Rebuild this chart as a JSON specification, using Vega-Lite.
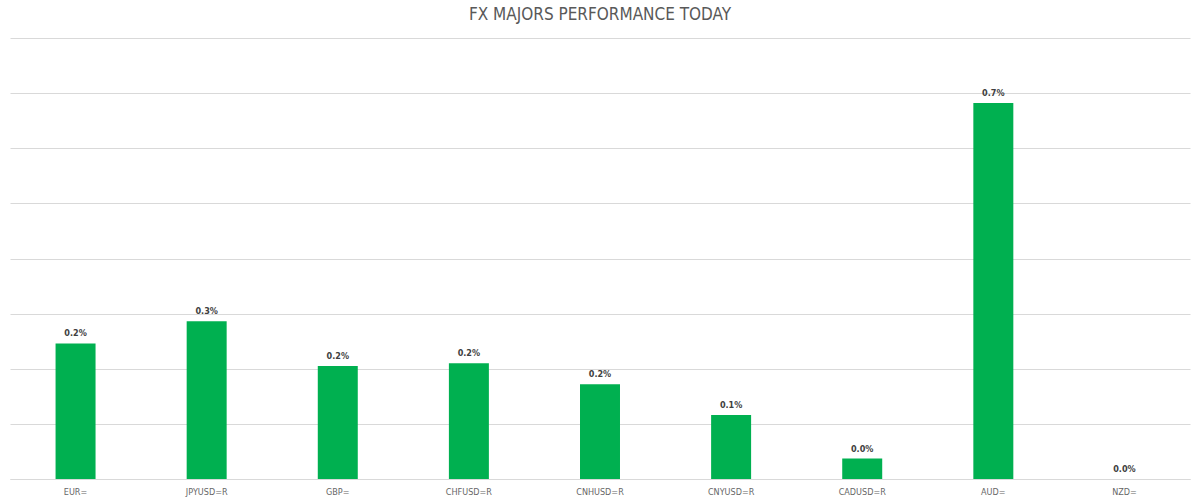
{
  "$schema": "https://vega.github.io/schema/vega-lite/v6.json",
  "width": 1180,
  "height": 441,
  "autosize": {"type": "none"},
  "padding": {"left": 10, "right": 10, "top": 38, "bottom": 24},
  "background": "#ffffff",
  "title": {
    "text": "FX MAJORS PERFORMANCE TODAY",
    "anchor": "middle",
    "font": "DejaVu Sans Condensed",
    "fontSize": 17,
    "fontWeight": "normal",
    "color": "#595959",
    "offset": 14
  },
  "config": {
    "view": {"stroke": null},
    "font": "DejaVu Sans Condensed"
  },
  "data": {
    "values": [
      {"ric": "EUR=", "change": 0.00246},
      {"ric": "JPYUSD=R", "change": 0.00286},
      {"ric": "GBP=", "change": 0.00205},
      {"ric": "CHFUSD=R", "change": 0.0021},
      {"ric": "CNHUSD=R", "change": 0.00172},
      {"ric": "CNYUSD=R", "change": 0.00116},
      {"ric": "CADUSD=R", "change": 0.00037},
      {"ric": "AUD=", "change": 0.00682},
      {"ric": "NZD=", "change": 0}
    ]
  },
  "encoding": {
    "x": {
      "field": "ric",
      "type": "nominal",
      "sort": null,
      "scale": {"paddingInner": 0.695, "paddingOuter": 0.3475},
      "axis": {
        "title": null,
        "labelAngle": 0,
        "ticks": false,
        "labelPadding": 8,
        "labelFontSize": 9,
        "labelColor": "#666666",
        "domainColor": "#d9d9d9",
        "domainWidth": 1
      }
    },
    "y": {
      "field": "change",
      "type": "quantitative",
      "scale": {"domain": [0, 0.008], "nice": false},
      "axis": {
        "title": null,
        "labels": false,
        "ticks": false,
        "domain": false,
        "values": [0, 0.001, 0.002, 0.003, 0.004, 0.005, 0.006, 0.007, 0.008],
        "gridColor": "#d9d9d9",
        "gridWidth": 1
      }
    }
  },
  "layer": [
    {
      "mark": {"type": "bar", "color": "#00b050"}
    },
    {
      "mark": {"type": "text", "baseline": "bottom", "dy": -5, "fontSize": 9, "fontWeight": "bold", "color": "#404040"},
      "encoding": {
        "text": {"field": "change", "type": "quantitative", "format": ".1%"}
      }
    }
  ]
}
